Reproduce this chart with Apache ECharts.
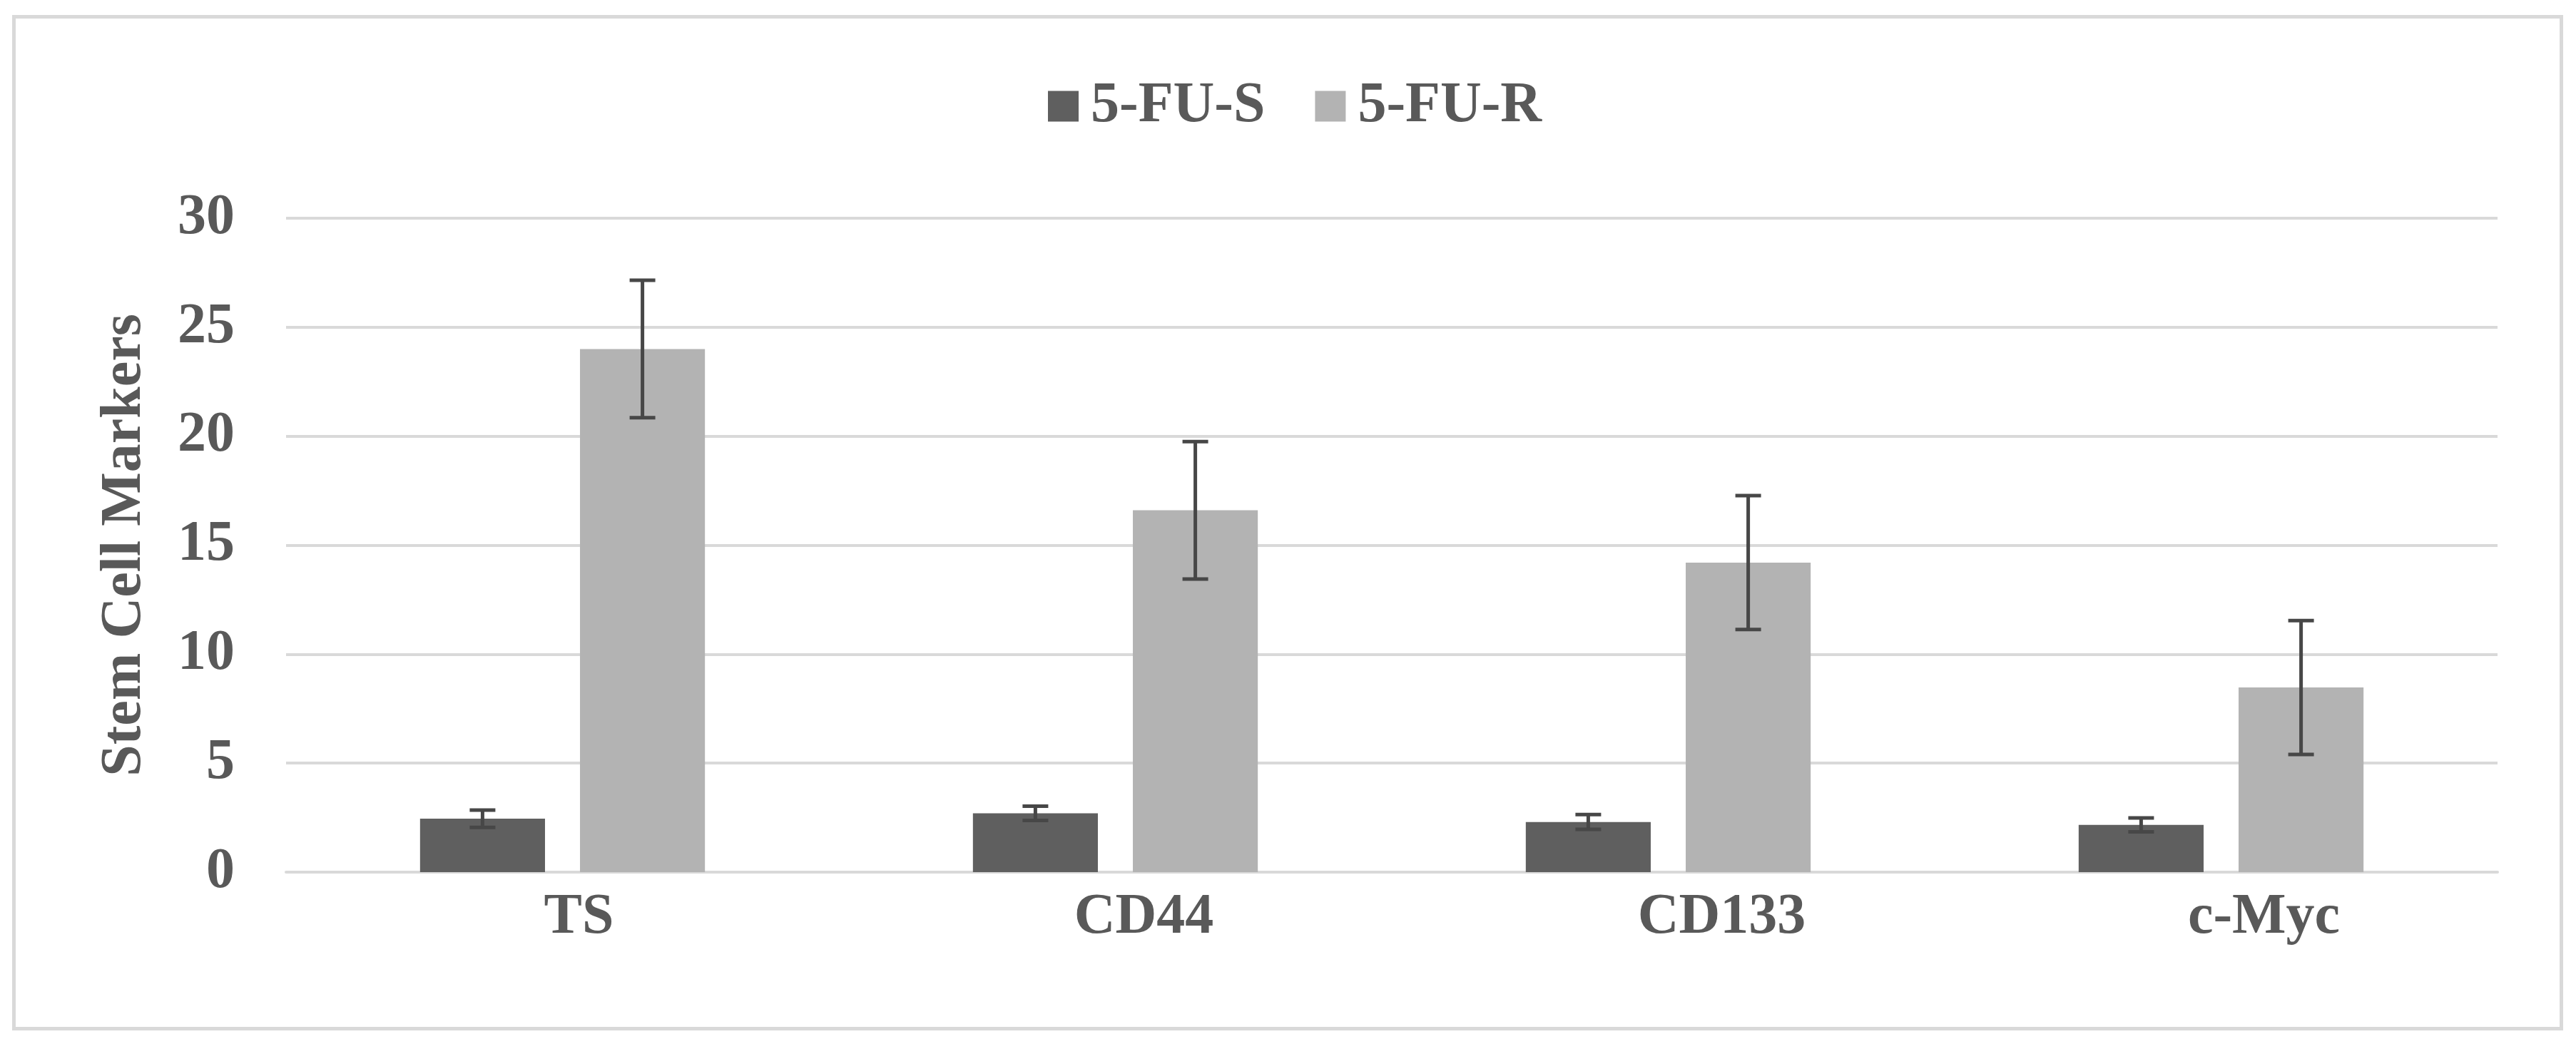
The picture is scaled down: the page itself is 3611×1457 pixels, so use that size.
<!DOCTYPE html>
<html>
<head>
<meta charset="utf-8">
<script src="https://cdn.jsdelivr.net/npm/echarts@6/dist/echarts.min.js"></script>
<style>
html,body{margin:0;padding:0;background:#fff;}
#frame{position:absolute;left:17px;top:21px;width:3566px;height:1414px;border:5px solid #d9d9d9;box-sizing:content-box;}
#chart{position:absolute;left:0;top:0;width:3611px;height:1457px;}
</style>
</head>
<body>
<div id="frame"></div>
<div id="chart"></div>
<script>
const categories = ['TS', 'CD44', 'CD133', 'c-Myc'];
const seriesNames = ['5-FU-S', '5-FU-R'];
const sValues = [2.45, 2.7, 2.3, 2.17];
const sErrors = [0.4, 0.33, 0.34, 0.32];
const rValues = [24.0, 16.6, 14.2, 8.47];
const rErrors = [3.15, 3.15, 3.07, 3.07];
const yTicks = [0, 5, 10, 15, 20, 25, 30];

const FONT = "'Liberation Serif', 'Times New Roman', serif";
const TXT = '#595959';
const BAR_W = 0.226;
const BAR_GAP = 0.28;
// label shift (px) applied per category to mimic the original label placement
const LABEL_SHIFT = [46, 80, 150, 120];

function errItems(vals, errs) {
  return vals.map((v, i) => [i, v, errs[i]]);
}

function makeErrRender(side) {
  return function (params, api) {
    const idx = api.value(0);
    const v = api.value(1);
    const e = api.value(2);
    const band = api.size([1, 0])[0];
    const bw = band * BAR_W;
    const off = side * (bw + bw * BAR_GAP) / 2;
    const top = api.coord([idx, v + e]);
    const bot = api.coord([idx, v - e]);
    const x = top[0] + off;
    const cap = 18;
    const style = { stroke: '#474747', lineWidth: 5 };
    return {
      type: 'group',
      children: [
        { type: 'line', shape: { x1: x, y1: top[1], x2: x, y2: bot[1] }, style: style },
        { type: 'line', shape: { x1: x - cap, y1: top[1], x2: x + cap, y2: top[1] }, style: style },
        { type: 'line', shape: { x1: x - cap, y1: bot[1], x2: x + cap, y2: bot[1] }, style: style }
      ]
    };
  };
}

const chart = echarts.init(document.getElementById('chart'), null, { renderer: 'canvas' });
chart.setOption({
  backgroundColor: 'transparent',
  animation: false,
  legend: {
    data: seriesNames,
    left: 1464,
    top: 104,
    icon: 'rect',
    itemWidth: 43,
    itemHeight: 43,
    itemGap: 70,
    textStyle: { fontFamily: FONT, fontWeight: 'bold', fontSize: 80, color: TXT, padding: [0, 0, 0, 12] }
  },
  grid: { left: 401, right: 110, top: 306, bottom: 234 },
  xAxis: {
    type: 'category',
    data: categories.map((c, i) => ({ value: c, textStyle: { padding: [0, 0, 0, LABEL_SHIFT[i]] } })),
    axisLine: { show: true, lineStyle: { color: '#d9d9d9', width: 4 } },
    axisTick: { show: false },
    axisLabel: { fontFamily: FONT, fontWeight: 'bold', fontSize: 80, color: TXT, margin: 24 }
  },
  yAxis: {
    type: 'value',
    min: yTicks[0],
    max: yTicks[yTicks.length - 1],
    interval: 5,
    name: 'Stem Cell Markers',
    nameLocation: 'middle',
    nameRotate: 90,
    nameGap: 186,
    nameTextStyle: { fontFamily: FONT, fontWeight: 'bold', fontSize: 80, color: TXT },
    axisLine: { show: false },
    axisTick: { show: false },
    axisLabel: { fontFamily: FONT, fontWeight: 'bold', fontSize: 80, color: TXT, margin: 72 },
    splitLine: { lineStyle: { color: '#d9d9d9', width: 4 } }
  },
  series: [
    {
      name: seriesNames[0], type: 'bar', data: sValues,
      barWidth: (BAR_W * 100) + '%', barGap: (BAR_GAP * 100) + '%',
      itemStyle: { color: '#5f5f5f' }, z: 2
    },
    {
      name: seriesNames[1], type: 'bar', data: rValues,
      barWidth: (BAR_W * 100) + '%', barGap: (BAR_GAP * 100) + '%',
      itemStyle: { color: '#b3b3b3' }, z: 2
    },
    {
      name: 'errS', type: 'custom', renderItem: makeErrRender(-1),
      data: errItems(sValues, sErrors), encode: { x: 0, y: 1 }, z: 5, silent: true
    },
    {
      name: 'errR', type: 'custom', renderItem: makeErrRender(1),
      data: errItems(rValues, rErrors), encode: { x: 0, y: 1 }, z: 5, silent: true
    }
  ]
});
</script>
</body>
</html>
